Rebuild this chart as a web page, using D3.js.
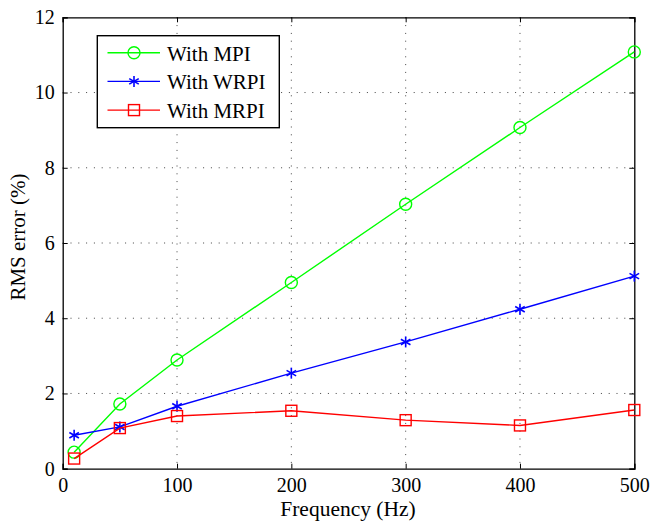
<!DOCTYPE html>
<html><head><meta charset="utf-8">
<script src="https://cdn.jsdelivr.net/npm/d3@7"></script>
<style>body{margin:0;background:#fff}svg{display:block}</style>
</head><body><svg id="c" width="650" height="523"></svg>
<script>
const freqs = [10, 50, 100, 200, 300, 400, 500];
const mpi = [0.44, 1.72, 2.89, 4.95, 7.03, 9.07, 11.08];
const wrpi = [0.89, 1.11, 1.66, 2.54, 3.37, 4.24, 5.12];
const mrpi = [0.27, 1.08, 1.40, 1.54, 1.29, 1.15, 1.56];
const xTicks = [0, 100, 200, 300, 400, 500];
const yTicks = [0, 2, 4, 6, 8, 10, 12];
const seriesNames = ["With MPI", "With WRPI", "With MRPI"];
const seriesColors = ["#00ff00", "#0000ff", "#ff0000"];
const seriesMarkers = ["circle", "star", "square"];

const FONT = "Liberation Serif";
const L = 62.7, R = 634.3, T = 17.3, B = 468.7;
const svg = d3.select("#c");
const x = d3.scaleLinear().domain([0, 500]).range([L, R]);
const y = d3.scaleLinear().domain([0, 12]).range([B, T]);

// grid
const g = svg.append("g");
g.selectAll(".vg").data(xTicks.slice(1, -1)).enter().append("line")
  .attr("x1", d => x(d)).attr("x2", d => x(d)).attr("y1", T).attr("y2", B)
  .attr("stroke", "#444").attr("stroke-width", 1).attr("stroke-dasharray", "1,6.8");
g.selectAll(".hg").data(yTicks.slice(1, -1)).enter().append("line")
  .attr("y1", d => y(d)).attr("y2", d => y(d)).attr("x1", L).attr("x2", R)
  .attr("stroke", "#444").attr("stroke-width", 1).attr("stroke-dasharray", "1,6.8");

// axes
const tl = 5;
const xa = svg.append("g").attr("transform", `translate(0,${B})`)
  .call(d3.axisBottom(x).tickValues(xTicks).tickSize(-tl).tickPadding(8));
const xt = svg.append("g").attr("transform", `translate(0,${T})`)
  .call(d3.axisTop(x).tickValues(xTicks).tickSize(-tl).tickFormat(""));
const ya = svg.append("g").attr("transform", `translate(${L},0)`)
  .call(d3.axisLeft(y).tickValues(yTicks).tickSize(-tl).tickPadding(8));
const yr = svg.append("g").attr("transform", `translate(${R},0)`)
  .call(d3.axisRight(y).tickValues(yTicks).tickSize(-tl).tickFormat(""));
[xa, xt, ya, yr].forEach(a => {
  a.attr("font-family", FONT).attr("font-size", 20);
  a.select(".domain").attr("stroke", "#000").attr("stroke-width", 1.3);
  a.selectAll(".tick line").attr("stroke", "#000").attr("stroke-width", 1);
  a.selectAll("text").attr("fill", "#000");
});
xa.selectAll("text").attr("dy", "0.76em");

svg.append("text").attr("x", 348).attr("y", 516).attr("text-anchor", "middle")
  .attr("font-family", FONT).attr("font-size", 21.5).text("Frequency (Hz)");
svg.append("text").attr("transform", `translate(25,237) rotate(-90)`)
  .attr("text-anchor", "middle").attr("font-family", FONT).attr("font-size", 21).text("RMS error (%)");

function marker(sel, type, color, cx, cy) {
  if (type === "circle") {
    sel.append("circle").attr("cx", cx).attr("cy", cy).attr("r", 6)
      .attr("fill", "none").attr("stroke", color).attr("stroke-width", 1.4);
  } else if (type === "square") {
    sel.append("rect").attr("x", cx - 5.5).attr("y", cy - 5.5).attr("width", 11).attr("height", 11)
      .attr("fill", "none").attr("stroke", color).attr("stroke-width", 1.4);
  } else {
    const r = 5.5;
    const p = [[0, -r, 0, r], [-r * 0.87, -r * 0.5, r * 0.87, r * 0.5], [-r * 0.87, r * 0.5, r * 0.87, -r * 0.5]];
    p.forEach(q => sel.append("line").attr("x1", cx + q[0]).attr("y1", cy + q[1]).attr("x2", cx + q[2]).attr("y2", cy + q[3])
      .attr("stroke", color).attr("stroke-width", 1.6));
  }
}

const allSeries = [mpi, wrpi, mrpi];
const line = d3.line().x((d, i) => x(freqs[i])).y(d => y(d));
allSeries.forEach((s, k) => {
  const sg = svg.append("g");
  sg.append("path").attr("d", line(s)).attr("fill", "none").attr("stroke", seriesColors[k]).attr("stroke-width", 1.4);
  s.forEach((v, i) => marker(sg, seriesMarkers[k], seriesColors[k], x(freqs[i]), y(v)));
});

// legend
const lg = svg.append("g");
lg.append("rect").attr("x", 97.3).attr("y", 35.7).attr("width", 182).attr("height", 92)
  .attr("fill", "#fff").attr("stroke", "#000").attr("stroke-width", 1.4);
seriesNames.forEach((n, k) => {
  const ly = 52.7 + k * 28.7;
  lg.append("line").attr("x1", 107.5).attr("x2", 160).attr("y1", ly).attr("y2", ly)
    .attr("stroke", seriesColors[k]).attr("stroke-width", 1.4);
  marker(lg, seriesMarkers[k], seriesColors[k], 134, ly);
  lg.append("text").attr("x", 167).attr("y", ly + 8).attr("font-family", FONT).attr("font-size", 21).text(n);
});
</script></body></html>
